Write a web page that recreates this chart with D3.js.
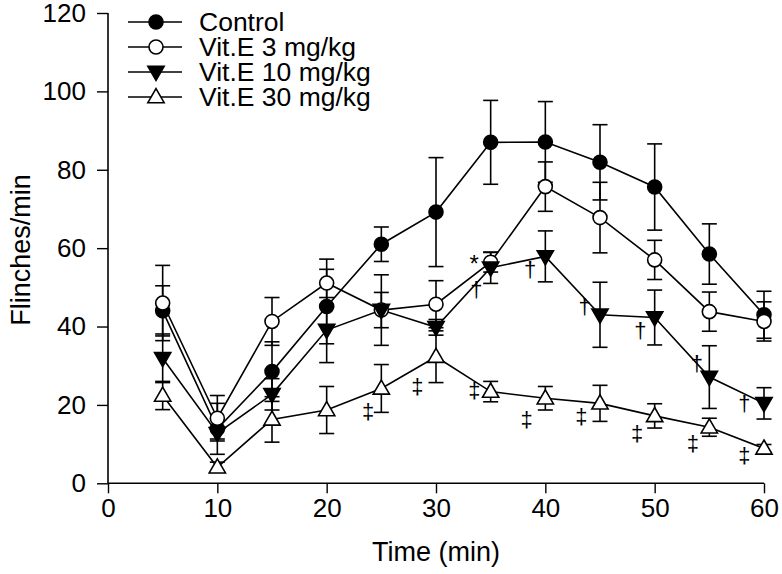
<!DOCTYPE html>
<html><head><meta charset="utf-8">
<script src="https://cdn.jsdelivr.net/npm/d3@7"></script>
<style>body{margin:0;background:#fff}svg{display:block}</style>
</head><body><svg id="c" width="782" height="574"></svg>
<script>
const times = [5, 10, 15, 20, 25, 30, 35, 40, 45, 50, 55, 60];
const seriesNames = ["Control", "Vit.E 3 mg/kg", "Vit.E 10 mg/kg", "Vit.E 30 mg/kg"];
const control    = [44, 13.9, 28.5, 45.1, 61, 69.2, 87, 87.1, 81.9, 75.6, 58.5, 43];
const controlErr = [6.4, 6.5, 7.6, 9.5, 4.4, 13.9, 10.7, 10.3, 9.6, 11, 7.7, 6];
const vitE3      = [46, 16.6, 41.3, 51.1, 44.2, 45.7, 56.4, 75.7, 67.8, 57, 43.8, 41.3];
const vitE3Err   = [9.6, 5.8, 6.1, 6.1, 9, 6, 2.5, 6.3, 9, 5, 5, 5];
const vitE10     = [31.9, 12.8, 22.7, 39.1, 44.2, 39.8, 55, 57.9, 43, 42.3, 27.1, 20.4];
const vitE10Err  = [6.2, 1.5, 4, 8.3, 4.5, 2, 4, 6.5, 8.3, 7, 8, 4];
const vitE30     = [22.4, 4.1, 16.3, 18.7, 24.2, 32.3, 23.4, 21.7, 20.4, 17.2, 14.3, 8.9];
const vitE30Err  = [3.6, 1.3, 5.8, 6, 6.1, 6.6, 2.6, 3, 4.6, 3.1, 2.3, 1];
const xTicks = [0, 10, 20, 30, 40, 50, 60];
const yTicks = [0, 20, 40, 60, 80, 100, 120];
const annotSymbols = ["*", "†", "†", "‡", "‡", "‡", "‡", "†", "†", "†", "†", "‡", "‡", "‡", "‡"];
const annotT       = [33.5, 33.7, 38.6, 28.3, 23.8, 33.5, 38.3, 43.6, 48.7, 53.85, 58.2, 43.3, 48.4, 53.5, 58.2];
const annotV       = [56.0, 49.4, 54.5, 24.7, 18.3, 23.8, 16.2, 45.1, 39.1, 30.6, 20.4, 17.0, 12.8, 10.2, 7.0];

const FONT = "'Liberation Sans', Arial, Helvetica, sans-serif";
const FS = "26px";
const svg = d3.select("#c");
const x = d3.scaleLinear().domain([0, 60]).range([108, 764]);
const y = d3.scaleLinear().domain([0, 120]).range([483.3, 13]);

const series = [
  {name: seriesNames[0], vals: control, err: controlErr, type: "circle", fill: "#000"},
  {name: seriesNames[1], vals: vitE3, err: vitE3Err, type: "circle", fill: "#fff"},
  {name: seriesNames[2], vals: vitE10, err: vitE10Err, type: "down", fill: "#000"},
  {name: seriesNames[3], vals: vitE30, err: vitE30Err, type: "up", fill: "#fff"}
];

// axes
const gx = svg.append("g").attr("transform", `translate(0,${y(0)})`)
  .call(d3.axisBottom(x).tickValues(xTicks).tickSize(10).tickPadding(5));
const gy = svg.append("g").attr("transform", `translate(${x(0)},0)`)
  .call(d3.axisLeft(y).tickValues(yTicks).tickSize(11).tickPadding(11));
[gx, gy].forEach(g => {
  g.selectAll("path.domain").attr("stroke", "#000").attr("stroke-width", 1.6);
  g.selectAll(".tick line").attr("stroke", "#000").attr("stroke-width", 1.4);
  g.selectAll(".tick text").attr("fill", "#000").style("font-family", FONT).style("font-size", FS);
});
gx.select("path.domain").attr("d", `M${x(0)},0H${x(60)}`);
gy.select("path.domain").attr("d", `M0,${y(0)}V${y(120)}`);

svg.append("text").attr("x", 436).attr("y", 561).attr("text-anchor", "middle").attr("fill", "#000")
  .style("font-family", FONT).style("font-size", "27px").text("Time (min)");
svg.append("text").attr("transform", "translate(30,250) rotate(-90)").attr("text-anchor", "middle").attr("fill", "#000")
  .style("font-family", FONT).style("font-size", "27px").text("Flinches/min");

const cap = 7.5;
const symTri = d3.symbol().type(d3.symbolTriangle).size(115);
function drawMarker(g, s, cx, cy) {
  if (s.type === "circle") {
    g.append("circle").attr("cx", cx).attr("cy", cy).attr("r", 7)
      .attr("fill", s.fill).attr("stroke", "#000").attr("stroke-width", 1.6);
  } else {
    const rot = s.type === "down" ? 180 : 0;
    g.append("path").attr("d", symTri())
      .attr("transform", `translate(${cx},${cy + (s.type === "down" ? -1 : 1)}) rotate(${rot})`)
      .attr("fill", s.fill).attr("stroke", "#000").attr("stroke-width", 1.6);
  }
}

// error bars
const gErr = svg.append("g");
series.forEach(s => {
  times.forEach((t, i) => {
    const cx = x(t), hi = y(s.vals[i] + s.err[i]), lo = y(s.vals[i] - s.err[i]);
    gErr.append("line").attr("x1", cx).attr("x2", cx).attr("y1", hi).attr("y2", lo)
      .attr("stroke", "#000").attr("stroke-width", 1.6);
    [hi, lo].forEach(yy => gErr.append("line").attr("x1", cx - cap).attr("x2", cx + cap)
      .attr("y1", yy).attr("y2", yy).attr("stroke", "#000").attr("stroke-width", 1.6));
  });
});

const line = d3.line().x((d, i) => x(times[i])).y(d => y(d));
const gLines = svg.append("g");
series.forEach(s => {
  gLines.append("path").attr("d", line(s.vals)).attr("fill", "none")
    .attr("stroke", "#000").attr("stroke-width", 1.6);
});
const gMarks = svg.append("g");
series.forEach(s => {
  times.forEach((t, i) => drawMarker(gMarks, s, x(t), y(s.vals[i])));
});

// annotations
const gAnn = svg.append("g").attr("opacity", 0.999);
annotSymbols.forEach((sym, i) => {
  gAnn.append("text").attr("x", x(annotT[i])).attr("y", y(annotV[i]))
    .attr("text-anchor", "middle").attr("dominant-baseline", "central").attr("fill", "#000")
    .style("font-family", FONT).style("font-size", sym === "*" ? "24px" : "22px")
    .text(sym);
});

// legend
const gLeg = svg.append("g");
series.forEach((s, i) => {
  const ly = 22 + i * 25;
  gLeg.append("line").attr("x1", 128).attr("x2", 182).attr("y1", ly).attr("y2", ly)
    .attr("stroke", "#000").attr("stroke-width", 1.6);
  drawMarker(gLeg, s, 156, ly);
  gLeg.append("text").attr("x", 199).attr("y", ly).attr("dy", "0.35em").attr("fill", "#000")
    .style("font-family", FONT).style("font-size", "26.5px").text(s.name);
});
</script>
</body></html>
